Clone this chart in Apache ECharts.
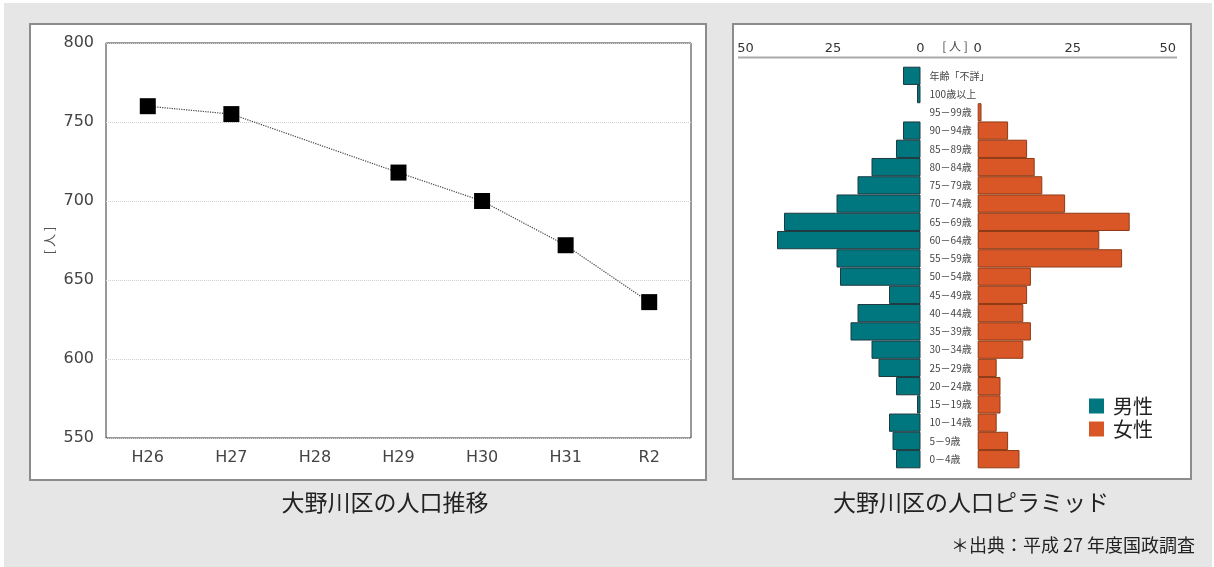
<!DOCTYPE html>
<html><head><meta charset="utf-8">
<script src="https://cdn.jsdelivr.net/npm/echarts@6/dist/echarts.min.js"></script>
<style>
html,body{margin:0;padding:0;background:#fff;width:1214px;height:567px;overflow:hidden;}
#bg{position:absolute;left:4px;top:3px;width:1208px;height:564px;background:#e6e6e6;}
.panel{position:absolute;background:#fff;border:2px solid #8c8c8c;box-sizing:border-box;}
#chart{position:absolute;left:0;top:0;width:1214px;height:567px;}
</style></head>
<body>
<div id="bg"></div>
<div class="panel" style="left:29px;top:23px;width:678px;height:458px;"></div>
<div class="panel" style="left:732px;top:23px;width:460px;height:457px;"></div>
<div id="chart"></div>
<script>
// ---- data ----
const years = ['H26','H27','H28','H29','H30','H31','R2'];
const population = [760, 755, null, 718, 700, 672, 636];

const ageGroups = ['年齢「不詳」','100歳以上','95－99歳','90－94歳','85－89歳','80－84歳','75－79歳','70－74歳','65－69歳','60－64歳','55－59歳','50－54歳','45－49歳','40－44歳','35－39歳','30－34歳','25－29歳','20－24歳','15－19歳','10－14歳','5－9歳','0－4歳'];
const male   = [5, 1, 0, 5, 7, 14, 18, 24, 39, 41, 24, 23, 9, 18, 20, 14, 12, 7, 1, 9, 8, 7];
const female = [0, 0, 1, 8, 13, 15, 17, 23, 40, 32, 38, 14, 13, 12, 14, 12, 5, 6, 6, 5, 8, 11];
const pyramidTicks = [0, 25, 50];

const NUM_FONT = "'DejaVu Sans','Noto Sans CJK JP',sans-serif";
const JP_FONT = "'Noto Sans CJK JP','DejaVu Sans',sans-serif";
const TEAL = '#00767f', ORANGE = '#d95726';
// zero counts draw no bar at all
const noZero = arr => arr.map(v => (v === 0 ? null : v));

const chart = echarts.init(document.getElementById('chart'), null, {renderer:'canvas'});
chart.setOption({
  animation: false,
  backgroundColor: 'transparent',
  title: [
    {text:'大野川区の人口推移', left:380, top:486, textAlign:'center',
     textStyle:{fontFamily:JP_FONT, fontSize:23, fontWeight:'normal', color:'#222'}},
    {text:'大野川区の人口ピラミッド', left:966, top:486, textAlign:'center',
     textStyle:{fontFamily:JP_FONT, fontSize:23, fontWeight:'normal', color:'#222'}},
    {text:'[ 人 ]', left:950, top:35, textAlign:'center',
     textStyle:{fontFamily:JP_FONT, fontSize:12, fontWeight:'normal', color:'#444'}}
  ],
  graphic: [
    {type:'line', shape:{x1:738, y1:57.5, x2:1177, y2:57.5}, style:{stroke:'#aaaaaa', lineWidth:2}},
    {type:'text', right:19, top:536, style:{text:'＊出典：平成 27 年度国政調査', font:"18px 'Noto Sans CJK JP'", fill:'#222'}}
  ],
  legend: {
    data:['男性','女性'], orient:'vertical', left:1089, top:396, padding:0,
    icon:'rect', itemWidth:15, itemHeight:15, itemGap:3,
    itemStyle:{borderWidth:0},
    textStyle:{fontFamily:JP_FONT, fontSize:20, color:'#222', lineHeight:20, padding:[0,0,0,4]}
  },
  grid: [
    {left:106, top:43, width:585, height:395, show:true, borderColor:'#333', borderWidth:1, backgroundColor:'transparent'},
    {left:745.5, top:66.7, width:175, height:401.6},
    {left:977.7, top:66.7, width:190, height:401.6}
  ],
  xAxis: [
    {gridIndex:0, type:'category', data:years, boundaryGap:true,
     axisLine:{show:false}, axisTick:{show:false},
     axisLabel:{fontFamily:NUM_FONT, fontSize:16, color:'#444', margin:12}},
    {gridIndex:1, type:'value', min:0, max:50, interval:25, inverse:true, position:'top', offset:9.5,
     axisLine:{show:false}, axisTick:{show:false}, splitLine:{show:false},
     axisLabel:{fontFamily:NUM_FONT, fontSize:13, color:'#333', margin:2, customValues: pyramidTicks}},
    {gridIndex:2, type:'value', min:0, max:50, interval:25, position:'top', offset:9.5,
     axisLine:{show:false}, axisTick:{show:false}, splitLine:{show:false},
     axisLabel:{fontFamily:NUM_FONT, fontSize:13, color:'#333', margin:2, customValues: pyramidTicks}}
  ],
  yAxis: [
    {gridIndex:0, type:'value', min:550, max:800, interval:50,
     name:'[ 人 ]', nameLocation:'middle', nameGap:50, nameRotate:90,
     nameTextStyle:{fontFamily:JP_FONT, fontSize:13, color:'#555'},
     axisLine:{show:false}, axisTick:{show:false},
     axisLabel:{fontFamily:NUM_FONT, fontSize:16, color:'#444', margin:12},
     splitLine:{show:true, lineStyle:{color:'#d0d0d0', type:'dotted', width:1}}},
    {gridIndex:1, type:'category', data:ageGroups, inverse:true, position:'right',
     axisLine:{show:false}, axisTick:{show:false},
     axisLabel:{interval:0, align:'left', margin:9, fontFamily:JP_FONT, fontSize:10, color:'#444'}},
    {gridIndex:2, type:'category', data:ageGroups, inverse:true,
     axisLine:{show:false}, axisTick:{show:false}, axisLabel:{show:false}}
  ],
  series: [
    {type:'line', xAxisIndex:0, yAxisIndex:0, data:population, connectNulls:true,
     symbol:'rect', symbolSize:16, itemStyle:{color:'#000'},
     lineStyle:{color:'#444', width:1.2, type:'dotted'}},
    {name:'男性', type:'bar', xAxisIndex:1, yAxisIndex:1, data:noZero(male),
     barCategoryGap:'0%', itemStyle:{color:TEAL, borderColor:'#1d3b40', borderWidth:1}},
    {name:'女性', type:'bar', xAxisIndex:2, yAxisIndex:2, data:noZero(female),
     barCategoryGap:'0%', itemStyle:{color:ORANGE, borderColor:'#8e3b16', borderWidth:1}}
  ]
});
</script>
</body></html>
